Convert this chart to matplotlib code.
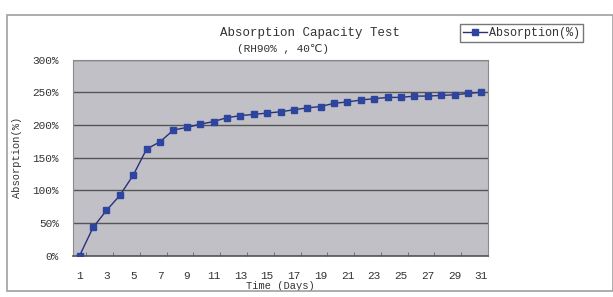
import numpy as np
import matplotlib.pyplot as plt
from matplotlib.patches import Rectangle
from matplotlib.ticker import FuncFormatter

# data
days = list(range(1, 32))
absorption = [0, 43, 69, 92, 123, 163, 174, 192, 196, 201, 205, 211, 214, 216, 218,
              220, 223, 226, 228, 233, 235, 238, 240, 242, 242, 244, 244, 245, 246, 248, 250]
xtick_labels = [str(d) for d in days[::2]]

fnt = 'Liberation Mono'
plt.rcParams['font.family'] = [fnt, 'DejaVu Sans']

fig = plt.figure(figsize=(6.13, 2.97), dpi=100)
# outer chart frame
fig.patches.append(Rectangle((7/613, 1-291/297), 1-7/613, (291-15)/297, transform=fig.transFigure,
                             fill=False, edgecolor='#a0a0a0', linewidth=1.2))

ax = fig.add_axes([73/613, 1-255.5/297, 415/613, 196/297])
ax.set_facecolor('#c0c0c6')

x = np.arange(len(days))
ax.plot(x, absorption, color='#2b2f7a', linewidth=1.0, marker='s', markersize=4.5,
        markerfacecolor='#2e45a0', markeredgecolor='#2e45a0', label='Absorption(%)', zorder=3)

ax.set_xlim(-0.5, len(days) - 0.5)
ax.set_ylim(0, 300)
ax.set_yticks(range(0, 301, 50))
ax.yaxis.set_major_formatter(FuncFormatter(lambda v, p: '%d%%' % v))
ax.grid(axis='y', color='#555555', linewidth=1.0)
ax.set_axisbelow(True)

ax.set_xticks(x[::2])
ax.set_xticklabels(xtick_labels)
ax.set_xticks(np.arange(0.5, len(days) - 1, 2), minor=True)
ax.tick_params(axis='x', which='major', length=0, labelsize=8, pad=11, colors='#333333')
ax.tick_params(axis='x', which='minor', length=3, direction='in', color='#666666')
ax.tick_params(axis='y', length=0, labelsize=8, pad=10, colors='#333333')

for s in ['top', 'right', 'left']:
    ax.spines[s].set_color('#8a8a8a')
ax.spines['bottom'].set_color('#555555')
ax.spines['bottom'].set_linewidth(1.2)

ax.set_xlabel('Time (Days)', fontsize=7.5, labelpad=0, color='#333333')
ax.set_ylabel('Absorption(%)', fontsize=7.5, labelpad=8, color='#333333')

fig.text(310/613, 1-33/297, 'Absorption Capacity Test', ha='center', va='center',
         fontsize=9, color='#333333')
fig.text(283/613, 1-49/297, '(RH90% , 40℃)', ha='center', va='center',
         fontsize=8, color='#333333', family=[fnt, 'DejaVu Sans'])

leg = ax.legend(loc='upper left', bbox_to_anchor=(460/613, 1-24/297), bbox_transform=fig.transFigure,
                frameon=True, fancybox=False, fontsize=8.5, handlelength=2.0, handletextpad=0.2,
                borderpad=0.25, borderaxespad=0)
leg.get_frame().set_edgecolor('#555555')
leg.get_frame().set_linewidth(1.0)
for t in leg.get_texts():
    t.set_color('#333333')

plt.savefig('out.png', dpi=100)
